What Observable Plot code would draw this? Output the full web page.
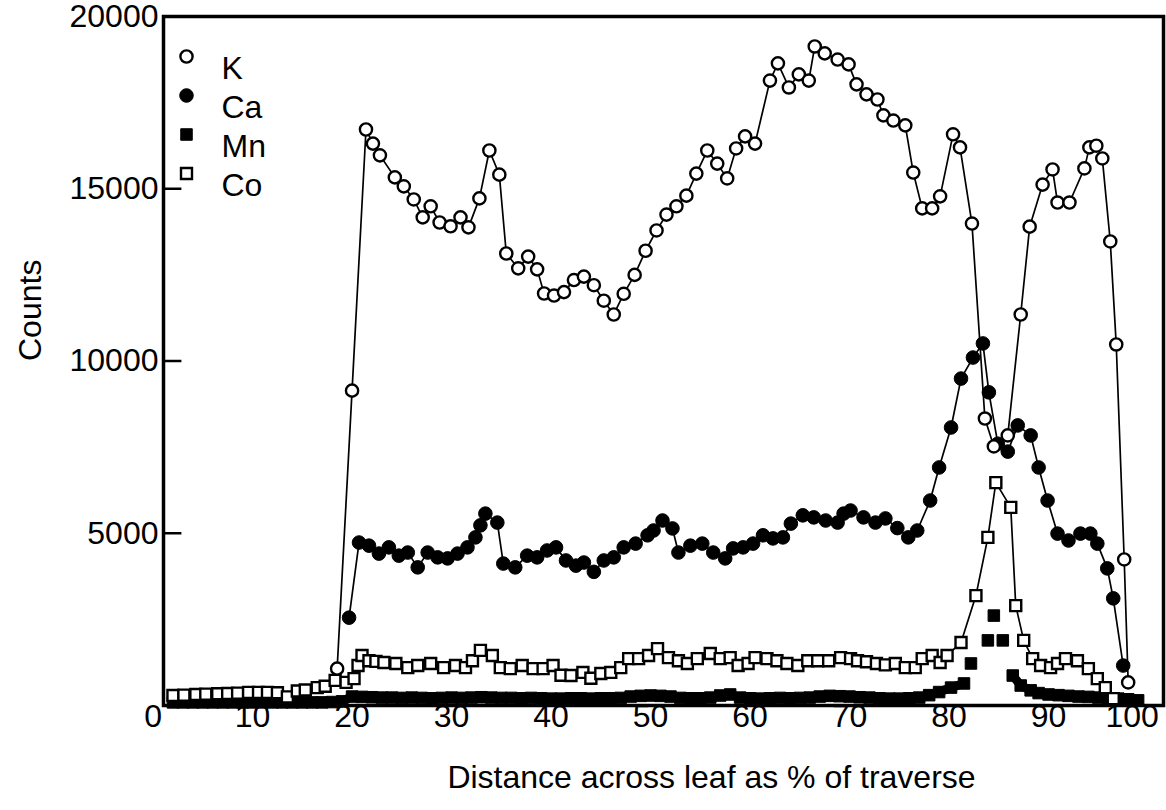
<!DOCTYPE html>
<html>
<head>
<meta charset="utf-8">
<script src="https://cdn.jsdelivr.net/npm/d3@7"></script>
<script src="https://cdn.jsdelivr.net/npm/@observablehq/plot@0.6"></script>
<style>
  html, body { margin: 0; padding: 0; background: #fff; }
  g[aria-label="xtitle"] text { word-spacing: 16px; letter-spacing: 1.5px; }
  g[aria-label="ticklabels"] text { letter-spacing: 1.5px; }
  g[aria-label="ylabel"] text { letter-spacing: 2px; }
  g[aria-label="legendtext"] text { letter-spacing: 1px; }
</style>
</head>
<body>
<div id="chart"></div>
<script>
// ---- data ----
const kX = [18.5,20.0,21.4,22.1,22.8,24.3,25.2,26.2,27.1,27.9,28.8,29.9,30.9,31.7,32.8,33.8,34.8,35.5,36.7,37.7,38.6,39.3,
  40.3,41.3,42.3,43.3,44.3,45.3,46.3,47.3,48.4,49.5,50.6,51.6,52.6,53.6,54.6,55.7,56.7,57.7,58.6,59.5,60.5,62.0,62.8,63.9,64.9,65.9,
  66.5,67.5,68.8,69.9,70.7,71.7,72.8,73.4,74.4,75.6,76.4,77.3,78.3,79.1,80.4,81.1,82.3,83.6,84.5,85.9,87.2,88.1,89.4,90.4,90.9,
  92.1,93.6,94.1,94.8,95.4,96.2,96.8,97.6,98.0];
const kY = [1070,9140,16720,16310,15970,15330,15070,14690,14170,14490,14020,13910,14170,13880,14720,16110,15410,13120,12690,13030,12660,11960,
  11900,12000,12350,12450,12200,11750,11350,11950,12500,13200,13790,14250,14490,14800,15440,16110,15730,15300,16170,16520,16310,18140,18640,17940,18320,18140,
  19130,18930,18750,18610,18030,17740,17590,17130,16980,16840,15470,14430,14430,14780,16580,16200,13990,8330,7520,7840,11350,13900,15120,15560,14600,
  14600,15590,16200,16250,15880,13470,10480,4240,670];

const caX = [19.7,20.7,21.7,22.7,23.7,24.7,25.6,26.6,27.6,28.6,29.6,30.6,31.6,32.4,32.9,33.4,34.6,35.2,36.4,37.6,38.6,39.6,40.5,41.5,42.5,43.3,
  44.3,45.3,46.3,47.3,48.5,49.7,50.3,51.2,52.2,52.8,54.0,55.2,56.3,57.5,58.3,59.3,60.3,61.3,62.3,63.3,64.1,65.3,66.4,67.6,68.8,69.4,70.1,
  71.4,72.6,73.6,74.8,75.9,76.8,78.1,79.0,80.2,81.2,82.4,83.4,84.0,84.9,85.9,86.9,88.2,89.0,89.9,90.9,92.0,93.2,94.2,94.9,95.9,96.5,97.5];
const caY = [2550,4730,4640,4410,4590,4350,4440,4010,4440,4300,4270,4410,4590,4880,5230,5570,5310,4120,4010,4350,4300,4500,4590,4210,4060,4150,
  3880,4210,4300,4590,4700,4940,5080,5370,5140,4440,4640,4700,4440,4270,4560,4590,4700,4940,4850,4880,5280,5520,5460,5370,5310,5570,5660,
  5460,5310,5430,5150,4880,5080,5950,6910,8070,9490,10100,10510,9090,7600,7370,8130,7840,6910,5950,4990,4790,4990,4990,4700,3980,3110,1160];

const coX = [2.0,3.1,4.3,5.3,6.5,7.5,8.5,9.6,10.6,11.5,12.5,13.5,14.5,15.3,16.5,17.3,18.3,19.4,20.2,20.6,21.0,21.7,22.4,23.2,24.4,25.6,26.6,
  27.9,29.2,30.4,31.4,32.1,32.9,34.1,34.9,35.9,37.1,38.2,39.2,40.2,41.0,42.0,43.2,44.0,45.0,46.0,47.0,47.8,48.8,49.8,50.7,51.8,52.8,53.7,
  54.7,56.0,57.0,58.0,58.8,59.8,60.5,61.7,62.7,63.7,64.8,65.8,66.8,67.9,69.1,70.1,70.8,71.7,72.7,73.6,74.6,75.6,76.6,77.3,78.3,79.1,79.8,
  81.2,82.7,83.9,84.7,86.2,86.7,87.5,88.4,89.2,90.2,90.9,91.7,92.9,94.0,94.9,95.7,96.5];
const coY = [290,300,320,330,340,350,360,380,380,380,370,250,420,450,520,560,730,670,780,1160,1450,1300,1280,1250,1220,1100,1160,
  1220,1100,1160,1100,1300,1600,1450,1100,1070,1160,1070,1070,1160,880,870,960,790,930,960,1100,1360,1360,1450,1650,1390,1300,1220,
  1360,1510,1360,1390,1160,1220,1390,1360,1300,1220,1160,1300,1300,1300,1390,1360,1300,1270,1220,1180,1220,1100,1100,1360,1450,1250,1450,
  1830,3190,4880,6470,5750,2900,1890,1360,1160,1100,1220,1360,1300,1070,780,520,200];

const mnX = [2,3,4,5,6,7,8,9,10,11,12,13,14,15,16,17,18,19,20,21,22,23,24,25,26,27,28,29,30,31,32,33,34,35,36,37,38,39,40,
  41,42,43,44,45,46,47,48,49,50,51,52,53,54,55,56,57,58,59,60,61,62,63,64,65,66,67,68,69,70,71,72,73,74,75,76,77,78,79,
  80.2,81.5,82.2,83.9,84.5,85.4,86.4,87.2,88.2,89,90,91,92,93,94,95,96,97,98,99];
const mnY = [90,90,90,90,90,90,90,90,90,90,90,90,90,90,90,90,100,120,260,250,240,230,230,220,230,220,210,220,230,220,230,240,230,220,220,210,220,210,200,
  200,210,210,200,210,210,220,260,280,290,280,260,220,210,210,230,290,320,230,210,200,210,220,210,220,230,260,280,270,260,240,230,210,200,200,210,230,300,390,
  520,640,1220,1890,2610,1890,870,580,440,360,320,300,280,260,250,230,210,200,180,150];

const xTicks = [0,10,20,30,40,50,60,70,80,90,100];
const yTicks = [5000,10000,15000,20000];
const seriesNames = ["K","Ca","Mn","Co"];

const K  = kX.map((x,i)=>({x, y:kY[i]}));
const Ca = caX.map((x,i)=>({x, y:caY[i]}));
const Co = coX.map((x,i)=>({x, y:coY[i]}));
const Mn = mnX.map((x,i)=>({x, y:mnY[i]}));
// the Mn peak squares stand alone; only the low band is joined
const MnBand = Mn.filter(d => d.y < 1000).map(d => ({...d, seg: d.x < 84 ? "left" : "right"}));

const styles = {
  K:  {symbol:"circle", r:6.1, fill:"white", stroke:"black", strokeWidth:2.4},
  Ca: {symbol:"circle", r:6.8, fill:"black", stroke:"black", strokeWidth:1},
  Mn: {symbol:"square", r:6.5, fill:"black", stroke:"black", strokeWidth:1},
  Co: {symbol:"square", r:6.2, fill:"white", stroke:"black", strokeWidth:2.4}
};

const legendMarks = seriesNames.flatMap((name,i) => [
  Plot.dot([name], {frameAnchor:"top-left", dx:23, dy:40 + i*39, ...styles[name]}),
  Plot.text([name], {frameAnchor:"top-left", dx:58, dy:40 + i*39, textAnchor:"start", fontSize:32, ariaLabel:"legendtext"})
]);

const chart = Plot.plot({
  width: 1166,
  height: 810,
  marginLeft: 163,
  marginRight: 3,
  marginTop: 16,
  marginBottom: 105,
  x: {domain: [1.05, 101.55], axis: null},
  y: {domain: [0, 20000], axis: null},
  style: {fontFamily: "'Liberation Sans', Arial, sans-serif", fontSize: "32px", color: "black", background: "white", overflow: "visible"},
  marks: [
    Plot.line(MnBand, {x:"x", y:"y", z:"seg", stroke:"black", strokeWidth:9}),
    Plot.dot(Mn, {x:"x", y:"y", ...styles.Mn}),
    Plot.line(Co, {x:"x", y:"y", stroke:"black", strokeWidth:1.7}),
    Plot.dot(Co, {x:"x", y:"y", ...styles.Co}),
    Plot.line(Ca, {x:"x", y:"y", stroke:"black", strokeWidth:1.7}),
    Plot.dot(Ca, {x:"x", y:"y", ...styles.Ca}),
    Plot.line(K, {x:"x", y:"y", stroke:"black", strokeWidth:1.7}),
    Plot.dot(K, {x:"x", y:"y", ...styles.K}),
    Plot.frame({stroke:"black", strokeWidth:3.5}),
    Plot.ruleY(yTicks.slice(0,3), {y: d=>d, x1: 1.05, x2: 2.9, stroke:"black", strokeWidth:2.5}),
    Plot.text(yTicks, {y: d=>d, frameAnchor:"left", dx:-5, textAnchor:"end", text: d=>String(d), ariaLabel:"ticklabels"}),
    Plot.text(xTicks.slice(0, -1), {x: d=>d, frameAnchor:"bottom", dy:21, text: d=>String(d), ariaLabel:"ticklabels"}),
    Plot.text(xTicks.slice(-1), {x: d=>d, frameAnchor:"bottom", dx:-16, dy:21, text: d=>String(d), ariaLabel:"ticklabels"}),
    Plot.text(["Counts"], {frameAnchor:"left", dx:-133, rotate:-90, fontSize:32, ariaLabel:"ylabel"}),
    Plot.text(["Distance across leaf as % of traverse"], {frameAnchor:"bottom", dx:48, dy:82, fontSize:32, ariaLabel:"xtitle"}),
    ...legendMarks
  ]
});
document.getElementById("chart").appendChild(chart);
</script>
</body>
</html>
